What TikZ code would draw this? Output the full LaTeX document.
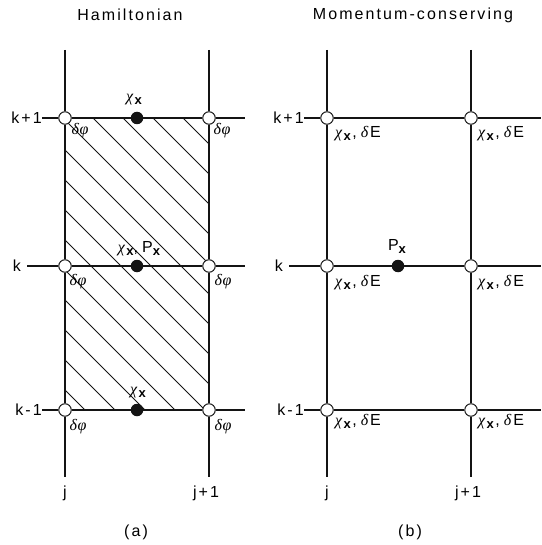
\documentclass[tikz,border=0pt]{standalone}
\usepackage{fontspec}
\setmainfont{Liberation Sans}
\newfontfamily\lblfont[LetterSpace=13]{Liberation Sans}
\newfontfamily\grkfont{Liberation Serif}
\usetikzlibrary{calc,positioning}
\definecolor{inkblack}{HTML}{141414}
\newcommand{\subx}{\raisebox{-3pt}{\lblfont\bfseries\fontsize{13}{13}\selectfont x}}
\newcommand{\chix}{{\grkfont\itshape χ}\kern1.5pt\subx}
\newcommand{\dphi}{{\grkfont\itshape δ\kern0.5pt φ}}
\newcommand{\chidE}{\chix\kern1.5pt,\kern4pt{\grkfont\itshape δ}\kern2pt E}
\tikzset{
  gridline/.style={inkblack,line width=1.4pt},
  hatchline/.style={inkblack,line width=1pt},
  opennode/.style={circle,draw=inkblack,fill=white,line width=1pt,minimum size=12.5pt,inner sep=0pt},
  fullnode/.style={circle,fill=inkblack,minimum size=12.5pt,inner sep=0pt},
  rowlabel/.style={font=\lblfont\fontsize{16}{18}\selectfont,inner sep=0pt},
  gklabel/.style={font=\lblfont\fontsize{16}{18}\selectfont,inner sep=1pt},
  titlelabel/.style={font=\lblfont\fontsize{16}{18}\selectfont}
}
\newcommand{\meshpanel}[3]{% {x shift}{prefix}{right end of rows}
  \begin{scope}[shift={(#1,0)}]
    % Ends of the lines
    \coordinate (#2-t1) at (65,50);
    \coordinate (#2-t2) at (209,50);
    \coordinate (#2-b1) at (65,477);
    \coordinate (#2-b2) at (209,477);
    \coordinate (#2-e1) at (#3,118);
    \coordinate (#2-e2) at (#3,266);
    \coordinate (#2-e3) at (#3,410);
    % Row labels
    \node[rowlabel,anchor=east] (#2-l1) at (42,118) {k+1};
    \node[rowlabel,anchor=east,inner xsep=6pt] (#2-l2) at (27,266) {k};
    \node[rowlabel,anchor=east] (#2-l3) at (42,410) {k-1};
    % Grid points
    \node[opennode] (#2-11) at (65,118) {};
    \node[opennode] (#2-12) at (65,266) {};
    \node[opennode] (#2-13) at (65,410) {};
    \node[opennode] (#2-21) at (209,118) {};
    \node[opennode] (#2-22) at (209,266) {};
    \node[opennode] (#2-23) at (209,410) {};
    % Lines
    \draw[gridline] (#2-t1) -- (#2-11) -- (#2-12) -- (#2-13) -- (#2-b1);
    \draw[gridline] (#2-t2) -- (#2-21) -- (#2-22) -- (#2-23) -- (#2-b2);
    \draw[gridline] (#2-l1.east) -- (#2-11) -- (#2-21) -- (#2-e1);
    \draw[gridline] (#2-l2.east) -- (#2-12) -- (#2-22) -- (#2-e2);
    \draw[gridline] (#2-l3.east) -- (#2-13) -- (#2-23) -- (#2-e3);
    % Column labels
    \node[rowlabel,below=9pt of #2-b1] (#2-j1) {j};
    \node[rowlabel,below=9pt of #2-b2,xshift=-3pt] (#2-j2) {j+1};
  \end{scope}
}

\begin{document}
\begin{tikzpicture}[x=1pt,y=-1pt]
  \useasboundingbox (0,0) rectangle (541,545);
  % Hamiltonian
  \begin{scope}
    \begin{scope}
      \clip (65,118) rectangle (209,410);
      \foreach \s in {-207,-177,...,209}
        \draw[hatchline] (\s,118) -- ++(292,292);
    \end{scope}
    \meshpanel{0}{a}{245}
    \node[fullnode] (a-p1) at (137,118) {};
    \node[fullnode] (a-p2) at (137,266) {};
    \node[fullnode] (a-p3) at (137,410) {};
    \node[gklabel] (a-c1) at (134,100) {\chix};
    \node[gklabel] (a-c2) at (139,249) {\chix,\kern4pt P\subx};
    \node[gklabel] (a-c3) at (138,393) {\chix};
    \node[gklabel] (a-d11) at (80,131) {\dphi};
    \node[gklabel] (a-d21) at (222,131) {\dphi};
    \node[gklabel] (a-d12) at (78,282) {\dphi};
    \node[gklabel] (a-d22) at (223,282) {\dphi};
    \node[gklabel] (a-d13) at (78,427) {\dphi};
    \node[gklabel] (a-d23) at (223,427) {\dphi};
    \node[titlelabel] (a-title) at (130,15) {Hamiltonian};
    \node[titlelabel] (a-cap) at (136,532) {(a)};
  \end{scope}
  % Momentum-conserving
  \begin{scope}
    \meshpanel{262}{b}{279}
    \node[fullnode] (b-p2) at (398,266) {};
    \node[gklabel] (b-px) at (397,246) {P\subx};
    \node[gklabel] (b-c11) at (358,134) {\chidE};
    \node[gklabel] (b-c21) at (501,134) {\chidE};
    \node[gklabel] (b-c12) at (358,283) {\chidE};
    \node[gklabel] (b-c22) at (501,283) {\chidE};
    \node[gklabel] (b-c13) at (358,422) {\chidE};
    \node[gklabel] (b-c23) at (501,422) {\chidE};
    \node[titlelabel] (b-title) at (413,15) {Momentum-conserving};
    \node[titlelabel] (b-cap) at (410,532) {(b)};
  \end{scope}
\end{tikzpicture}
\end{document}
